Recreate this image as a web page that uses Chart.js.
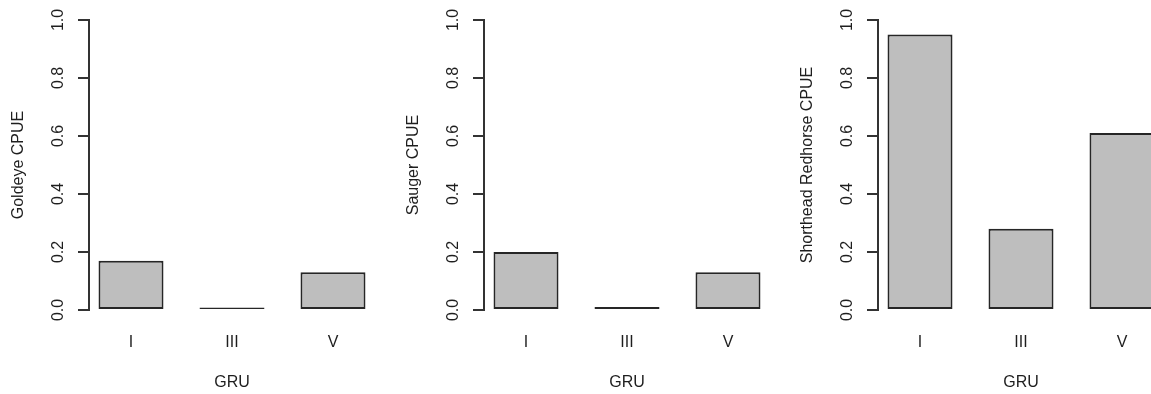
<!DOCTYPE html>
<html>
<head>
<meta charset="utf-8">
<script src="https://cdn.jsdelivr.net/npm/chart.js@4/dist/chart.umd.min.js"></script>
<style>
  html, body { margin: 0; padding: 0; background: #fff; }
  body { width: 1151px; height: 394px; overflow: hidden; position: relative; }
  .panel { position: absolute; top: 0; width: 395px; height: 394px; }
</style>
</head>
<body>
<div class="panel" style="left:0px"><canvas id="c1" width="395" height="394"></canvas></div>
<div class="panel" style="left:395px"><canvas id="c2" width="395" height="394"></canvas></div>
<div class="panel" style="left:789px"><canvas id="c3" width="395" height="394"></canvas></div>
<script>
// data
const gruLabels = ["I", "III", "V"];
const goldeyeCpue = [0.17, 0.0, 0.13];
const saugerCpue = [0.20, 0.01, 0.13];
const shortheadCpue = [0.95, 0.28, 0.61];
const yTitles = ["Goldeye CPUE", "Sauger CPUE", "Shorthead Redhorse CPUE"];
const xTitle = "GRU";

const FONT = "'Liberation Sans', Arial, Helvetica, sans-serif";
const INK = "#1e1e1e";

function makePanel(id, values, yTitle) {
  const ctx = document.getElementById(id).getContext("2d");
  return new Chart(ctx, {
    type: "bar",
    data: {
      datasets: [{
        data: values.map((v, i) => ({ x: i, y: v })),
        backgroundColor: "#bebebe",
        borderColor: "#262626",
        borderWidth: 2,
        borderSkipped: false,
        inflateAmount: 0,
        barThickness: 65,
        minBarLength: 2.5,
        clip: false
      }]
    },
    options: {
      responsive: false,
      animation: false,
      devicePixelRatio: 1,
      layout: { padding: { top: 20, right: 20, left: 0, bottom: 0 } },
      plugins: { legend: { display: false }, tooltip: { enabled: false } },
      scales: {
        x: {
          type: "linear",
          offset: false,
          min: -0.416,
          max: 2.416,
          grid: { display: false, drawTicks: false, offset: false },
          border: { display: false },
          afterBuildTicks: s => { s.ticks = gruLabels.map((_, i) => ({ value: i })); },
          afterFit: s => { s.height = 84; },
          ticks: {
            padding: 23,
            color: INK,
            font: { family: FONT, size: 16 },
            callback: v => gruLabels[v]
          },
          title: {
            display: true,
            text: xTitle,
            color: INK,
            font: { family: FONT, size: 16 },
            padding: { top: 0, bottom: 2 }
          }
        },
        y: {
          min: 0,
          max: 1,
          afterFit: s => { s.width = 89; },
          grid: { drawOnChartArea: false, tickLength: 11, color: "#333", lineWidth: 2 },
          border: { display: true, color: "#333", width: 2 },
          ticks: {
            stepSize: 0.2,
            minRotation: 90,
            maxRotation: 90,
            crossAlign: "center",
            padding: 8,
            color: INK,
            font: { family: FONT, size: 16 },
            callback: v => Number(v).toFixed(1)
          },
          title: {
            display: true,
            text: yTitle,
            color: INK,
            font: { family: FONT, size: 16 },
            padding: { top: 9, bottom: 0 }
          }
        }
      }
    }
  });
}

makePanel("c1", goldeyeCpue, yTitles[0]);
makePanel("c2", saugerCpue, yTitles[1]);
makePanel("c3", shortheadCpue, yTitles[2]);
</script>
</body>
</html>
